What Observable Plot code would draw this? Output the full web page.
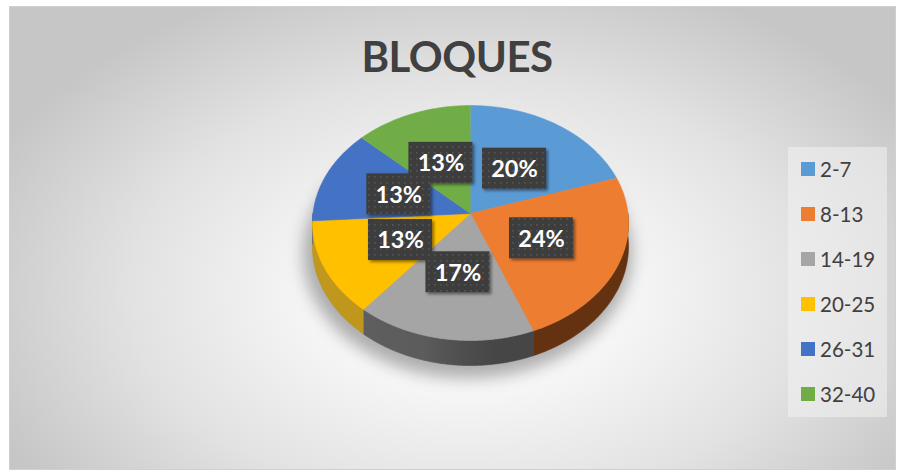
<!DOCTYPE html>
<html>
<head>
<meta charset="utf-8">
<script src="https://cdn.jsdelivr.net/npm/d3@7"></script>
<script src="https://cdn.jsdelivr.net/npm/@observablehq/plot@0.6"></script>
<style>
  html, body { margin: 0; padding: 0; background: #ffffff; }
  #wrap { position: relative; width: 905px; height: 473px; overflow: hidden; font-family: Lato, "Open Sans", sans-serif; }
  #frame { position: absolute; left: 9px; top: 6px; width: 887px; height: 464px;
    background: radial-gradient(ellipse 520px 330px at 460px 285px, #ffffff 0%, #f6f6f6 30%, #e2e2e2 65%, #c6c6c6 100%);
    box-sizing: border-box; border: 1px solid #d0d0d0; }
  #title { position: absolute; left: 0; width: 914px; top: 31px; text-align: center;
    font: 700 42px Lato, sans-serif; color: #404040; letter-spacing: -0.5px; }
  #chart { position: absolute; left: 0; top: 0; }
  #legend { position: absolute; left: 788px; top: 147px; width: 99px; height: 270px;
    background: rgba(242,242,242,0.55); }
  .item { position: absolute; left: 13px; height: 24px; display: flex; align-items: center; }
  .sw { width: 14px; height: 14px; margin-right: 5px; }
  .lbl { font: 400 20.5px Lato, sans-serif; color: #404040; }
</style>
</head>
<body>
<div id="wrap">
  <div id="frame"></div>
  <div id="title">BLOQUES</div>
  <div id="chart"></div>
  <div id="legend"></div>
</div>
<script>
// ---- data ----
const categories = ["2-7", "8-13", "14-19", "20-25", "26-31", "32-40"];
const percents = [20, 24, 17, 13, 13, 13];
const topColors = ["#5B9BD5", "#ED7D31", "#A5A5A5", "#FFC000", "#4472C4", "#70AD47"];
const sideColors = ["#2f5f8c", "#6a3512", "#4a4a4a", "#b88a00", "#2a4a85", "#43702a"];

// ---- layout (pixels) ----
const W = 905, H = 473;
const cx = 470, cy = 213, Rx = 157.5, Ry = 116.7, persp = 0.081, depth = 23;

function proj(deg, f = 1) {
  const a = deg * Math.PI / 180;
  const s = -Math.cos(a);            // -1 back (top), +1 front (bottom)
  const g = 1 / (1 - persp * s * f);
  return { x: cx + Rx * f * Math.sin(a) * g, y: cy + Ry * f * s * g, g };
}

const total = d3.sum(percents);
let acc = 0;
const slices = categories.map((c, i) => {
  const a0 = acc / total * 360;
  acc += percents[i];
  const a1 = acc / total * 360;
  return { cat: c, value: percents[i], a0, a1, top: topColors[i], side: sideColors[i] };
});

// top faces
const topPts = [];
for (const s of slices) {
  topPts.push({ id: s.cat, x: cx, y: cy, c: s.top });
  for (let a = s.a0; a < s.a1; a += 0.5) {
    const p = proj(a); topPts.push({ id: s.cat, x: p.x, y: p.y, c: s.top });
  }
  const p = proj(s.a1); topPts.push({ id: s.cat, x: p.x, y: p.y, c: s.top });
}

// side walls (front half: 90..270 degrees clockwise from top)
const wallPts = [];
for (const s of slices) {
  const lo = Math.max(s.a0, 90), hi = Math.min(s.a1, 270);
  if (hi <= lo) continue;
  const arc = [];
  for (let a = lo; a < hi; a += 0.5) arc.push(a);
  arc.push(hi);
  for (const a of arc) { const p = proj(a); wallPts.push({ id: s.cat, x: p.x, y: p.y, c: s.side }); }
  for (const a of arc.slice().reverse()) { const p = proj(a); wallPts.push({ id: s.cat, x: p.x, y: p.y + depth * p.g, c: s.side }); }
}

// shadow (bottom outline, shifted)
const shadowPts = [];
for (let a = 0; a <= 360; a += 2) {
  const p = proj(a, 1.04);
  shadowPts.push({ x: p.x - 3, y: p.y + depth * p.g + 7 });
}

// labels
const labels = slices.map(s => {
  const p = proj((s.a0 + s.a1) / 2, 0.49);
  return { x: p.x, y: p.y, text: s.value + "%" };
});
const bw = 64, bh = 41;

const plot = Plot.plot({
  width: W, height: H,
  margin: 0,
  x: { domain: [0, W], range: [0, W], axis: null },
  y: { domain: [0, H], range: [0, H], axis: null },
  style: { background: "transparent", overflow: "visible" },
  marks: [
    Plot.line(shadowPts, { x: "x", y: "y", fill: "#000", fillOpacity: 0.3, stroke: "none" }),
    Plot.line(wallPts, { x: "x", y: "y", z: "id", fill: "c", stroke: "c", strokeWidth: 0.6 }),
    Plot.line(wallPts, { x: "x", y: "y", z: "id", fill: "url(#wg)", stroke: "none" }),
    Plot.line(topPts, { x: "x", y: "y", z: "id", fill: "c", stroke: "c", strokeWidth: 0.6 }),
    Plot.rect(labels, { x1: d => d.x - bw / 2, x2: d => d.x + bw / 2, y1: d => d.y - bh / 2, y2: d => d.y + bh / 2,
      fill: "url(#dots)" }),
    Plot.text(labels, { x: "x", y: "y", text: "text", fill: "#ffffff", fontSize: 23.5, fontWeight: 700,
      fontFamily: "Lato, sans-serif", dy: 1 })
  ]
});

// defs: dotted pattern, shadow filters, wall shading
const svg = d3.select(plot);
const groups = plot.querySelectorAll(":scope > g");
const defs = svg.insert("defs", ":first-child");
const pat = defs.append("pattern").attr("id", "dots").attr("patternUnits", "userSpaceOnUse")
  .attr("width", 6).attr("height", 6);
pat.append("rect").attr("width", 6).attr("height", 6).attr("fill", "#3d3d3d");
pat.append("rect").attr("x", 2).attr("y", 2).attr("width", 1.6).attr("height", 1.6).attr("fill", "#555555");
const wg = defs.append("linearGradient").attr("id", "wg").attr("gradientUnits", "userSpaceOnUse")
  .attr("x1", cx - Rx).attr("x2", cx + Rx).attr("y1", 0).attr("y2", 0);
wg.append("stop").attr("offset", 0).attr("stop-color", "#fff").attr("stop-opacity", 0.12);
wg.append("stop").attr("offset", 0.35).attr("stop-color", "#fff").attr("stop-opacity", 0.1);
wg.append("stop").attr("offset", 0.6).attr("stop-color", "#000").attr("stop-opacity", 0.06);
wg.append("stop").attr("offset", 1).attr("stop-color", "#000").attr("stop-opacity", 0.05);
defs.append("filter").attr("id", "blur").attr("x", "-20%").attr("y", "-20%").attr("width", "140%").attr("height", "140%")
  .append("feGaussianBlur").attr("stdDeviation", 8);
const ds = defs.append("filter").attr("id", "ds").attr("x", "-20%").attr("y", "-20%").attr("width", "150%").attr("height", "150%");
ds.append("feDropShadow").attr("dx", 2).attr("dy", 2).attr("stdDeviation", 1.5).attr("flood-color", "#000").attr("flood-opacity", 0.45);
d3.select(groups[0]).attr("filter", "url(#blur)");
d3.select(groups[4]).attr("filter", "url(#ds)");

document.getElementById("chart").appendChild(plot);

// legend
const leg = document.getElementById("legend");
categories.forEach((c, i) => {
  const it = document.createElement("div");
  it.className = "item";
  it.style.top = (10 + i * 45) + "px";
  it.innerHTML = `<span class="sw" style="background:${topColors[i]}"></span><span class="lbl">${c}</span>`;
  leg.appendChild(it);
});
</script>
</body>
</html>
